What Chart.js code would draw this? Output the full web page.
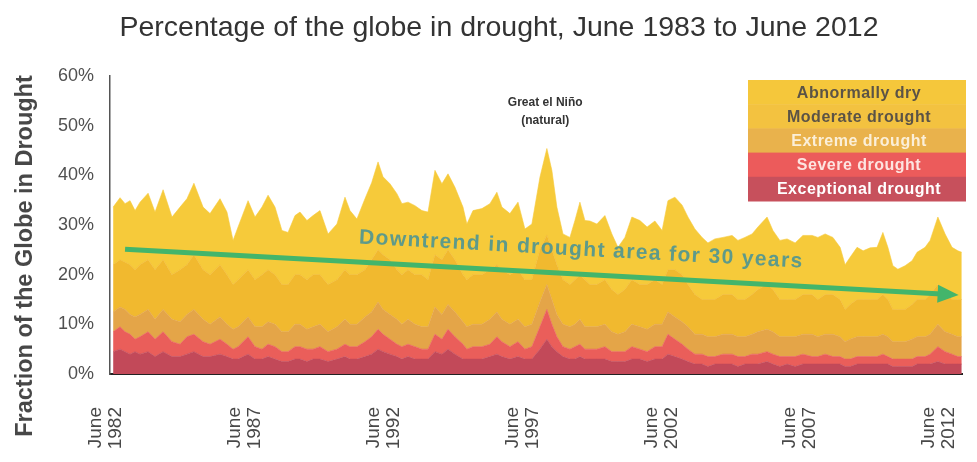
<!DOCTYPE html>
<html>
<head>
<meta charset="utf-8">
<script src="https://cdn.jsdelivr.net/npm/chart.js@4.4.0/dist/chart.umd.min.js"></script>
<style>
  html, body { margin: 0; padding: 0; background: #fff; }
  #chartContainer { width: 977px; height: 462px; }
</style>
</head>
<body>
<div id="chartContainer"><canvas id="droughtChart"></canvas></div>
<script>
// time of each sample (decimal year)
const years = [
  1982.54, 1982.79, 1982.97, 1983.15, 1983.33, 1983.51, 1983.80,
  1984.05, 1984.34, 1984.66, 1984.95, 1985.20, 1985.45, 1985.78,
  1986.03, 1986.39, 1986.64, 1986.86, 1987.04,
  1987.40, 1987.65, 1987.90, 1988.12, 1988.37, 1988.62, 1988.84,
  1989.09, 1989.27, 1989.52, 1989.74, 1989.99, 1990.28, 1990.60,
  1990.89, 1991.07, 1991.32, 1991.61, 1991.85,
  1992.08, 1992.26, 1992.51, 1992.76, 1992.94, 1993.16, 1993.41, 1993.66, 1993.88,
  1994.13, 1994.38, 1994.60, 1994.85,
  1995.14, 1995.28, 1995.50, 1995.82, 1996.11, 1996.36, 1996.54, 1996.83, 1997.12, 1997.37, 1997.62,
  1997.91, 1998.16, 1998.34, 1998.52, 1998.74, 1998.99,
  1999.17, 1999.35, 1999.53, 1999.71, 1999.96, 2000.25, 2000.50, 2000.72, 2000.97, 2001.22, 2001.51, 2001.77, 2002.05, 2002.31,
  2002.52, 2002.77, 2003.03, 2003.24,
  2003.49, 2003.75, 2003.96, 2004.21, 2004.50, 2004.83, 2005.04, 2005.29, 2005.55, 2005.76,
  2006.09, 2006.30, 2006.55, 2006.81, 2007.10, 2007.38, 2007.71, 2007.92, 2008.18, 2008.46,
  2008.72, 2008.90, 2009.08, 2009.33, 2009.55, 2009.80, 2010.05, 2010.26, 2010.44, 2010.62,
  2010.80, 2011.06, 2011.31, 2011.49, 2011.78, 2011.96, 2012.24, 2012.50, 2012.75, 2012.96, 2013.10
];

// top edge of each band, % of globe (cumulative)
const dryTop = [
  33.6, 35.5, 34.3, 34.9, 32.9, 34.6, 36.4,
  32.6, 37.1, 31.6, 33.6, 35.3, 38.4, 33.6,
  32.3, 35.3, 32.6, 26.9, 29.6,
  34.9, 31.6, 33.6, 36.0, 33.6, 28.9, 28.5,
  31.9, 32.6, 30.9, 31.9, 32.9, 28.2, 30.2,
  35.6, 32.9, 31.2, 35.3, 38.5,
  42.7, 39.7, 38.3, 36.3, 34.3, 34.6, 33.9, 32.9, 32.6,
  41.0, 38.3, 40.3, 37.6,
  33.6, 30.2, 32.9, 33.3, 34.3, 36.6, 33.6, 32.3, 34.6, 29.2, 30.2,
  39.6, 45.4, 41.0, 33.6, 28.2, 27.5,
  30.9, 34.6, 30.9, 30.8, 30.2, 31.9, 28.2, 25.5, 27.5, 31.6, 30.9, 29.6, 30.8, 28.9,
  34.9, 35.6, 34.0, 31.6,
  29.2, 27.5, 26.4, 27.2, 27.5, 27.9, 26.9, 27.5, 28.2, 29.6,
  31.6, 28.9, 26.9, 27.2, 26.4, 27.9, 27.9, 27.5, 28.2, 27.5,
  25.5, 22.0, 23.5, 25.5, 24.8, 25.4, 25.5, 28.5, 25.5, 21.8,
  21.1, 21.8, 22.8, 24.5, 25.5, 26.9, 31.6, 28.2, 25.5, 24.8, 24.5
];

const moderateTop = [
  22, 23, 22.5, 22, 21, 22, 23,
  21, 23, 20, 21, 22, 24, 21,
  20, 22, 20, 18, 19,
  21, 19, 20, 21, 20, 18, 18,
  20, 20, 19, 20, 20, 18, 19,
  21, 20, 20, 21, 23,
  25, 24, 23, 21, 20, 21, 20, 20, 19,
  24, 23, 25, 23,
  20, 19, 20, 20, 21, 22, 21, 20, 21, 19, 19,
  25, 28, 25, 22, 19, 18,
  19, 20, 19, 18, 18, 19, 17, 16, 17, 19, 18, 18, 19, 18,
  21, 21, 20, 18,
  16, 15, 15, 15, 16, 16, 15, 15, 16, 17,
  18, 17, 15, 15, 15, 16, 16, 15, 16, 16,
  15, 13, 14, 15, 15, 15, 15, 16, 15, 13,
  13, 13, 14, 15, 15, 16, 18, 17, 15, 15, 15
];

const extremeTop = [
  12.5, 13.5, 13, 12, 11.5, 12, 13,
  11, 13, 11, 10.5, 12, 13, 11,
  10, 11.5, 10, 9, 9.5,
  11.5, 9.5, 9.5, 10.5, 10, 8.5, 8.5,
  10, 10, 9, 9.5, 10, 8.5, 9.5,
  11, 10, 10, 11.5, 12.5,
  14.5, 13, 12, 11, 10, 11, 10, 9.5, 9.5,
  13.5, 12, 14, 12.5,
  10.5, 9.5, 10, 10, 11, 12.5, 11, 10, 11, 9.5, 10,
  14.5, 18, 15, 12, 10, 9.5,
  10, 11, 9.5, 9.5, 9.5, 10, 8.5, 8, 8.5, 10, 9.5, 9, 10, 10,
  12.5, 11.5, 10.5, 9.5,
  8, 8, 7.5, 7.5, 8, 8, 7.5, 7.5, 8, 8.5,
  9, 8.5, 7.5, 7.5, 7.5, 8, 8, 7.5, 8, 8,
  7.5, 6.5, 7, 7.5, 7.5, 7.5, 7.5, 8, 7.5, 6.5,
  6.5, 6.5, 7, 7.5, 7.5, 8, 10, 8.5, 8, 7.5, 7.5
];

const severeTop = [
  8.5, 9.5, 8.5, 8, 7, 7.5, 8.5,
  7, 8.5, 6.5, 6, 7.5, 8, 6.5,
  6, 7, 6, 5, 5.5,
  7.5, 5.5, 5, 6, 5.5, 4.5, 4.5,
  5.5, 5.5, 5, 5, 5.5, 4.5, 5,
  6, 5.5, 5.5, 6.5, 7.5,
  9, 8, 7, 6, 5.5, 6, 5.5, 5, 5,
  8, 7, 9, 7.5,
  6, 5, 5.5, 5.5, 6, 7.5, 6.5, 5.5, 6.5, 5, 5.5,
  9.5, 13, 10, 7.5, 5.5, 5,
  5.5, 6, 5, 5, 5, 5.5, 4.5, 4.5, 4.5, 5.5, 5, 4.5, 5.5, 5.5,
  8, 7, 6, 5,
  4, 4, 3.5, 3.5, 4, 4, 3.5, 3.5, 4, 4,
  4.5, 4, 3.5, 3.5, 3.5, 4, 3.5, 3.5, 4, 3.5,
  3.5, 3, 3, 3.5, 3.5, 3.5, 3.5, 4, 3.5, 3,
  3, 3, 3, 3.5, 3.5, 4, 5.5, 4.5, 4, 3.5, 3.5
];

const exceptionalTop = [
  4.5, 5, 4.5, 4, 4.5, 4, 4.5,
  3.5, 4.5, 3.5, 3.5, 4, 4.5, 3.5,
  3.5, 4, 3.5, 3, 3,
  4, 3, 3, 3.5, 3, 2.5, 2.5,
  3, 3, 2.5, 3, 3, 2.5, 3,
  3.5, 3, 3, 3.5, 4,
  5, 4.5, 4, 3.5, 3, 3.5, 3, 3, 3,
  4.5, 4, 5, 4,
  3, 3, 3, 3, 3.5, 4, 3.5, 3, 3.5, 3, 3,
  5, 7, 5.5, 4.5, 3.5, 3,
  3, 3.5, 3, 3, 3, 3, 2.5, 2.5, 2.5, 3, 3, 2.5, 3, 3,
  4, 3.5, 3, 2.5,
  2, 2, 1.5, 2, 2, 2, 1.5, 2, 2, 2,
  2.5, 2, 1.5, 2, 1.5, 2, 2, 2, 2, 2,
  2, 1.5, 1.5, 2, 2, 2, 2, 2, 2, 1.5,
  1.5, 1.5, 1.5, 2, 2, 2, 2.5, 2, 2, 2, 2
];

const layerNames = ['Abnormally dry', 'Moderate drought', 'Extreme drought', 'Severe drought', 'Exceptional drought'];

const tickYears = [1982.5, 1987.5, 1992.5, 1997.5, 2002.5, 2007.5, 2012.5];
const tickLabels = [
  ['June', '1982'], ['June', '1987'], ['June', '1992'], ['June', '1997'],
  ['June', '2002'], ['June', '2007'], ['June', '2012']
];

const trendYears = [1982.97, 2012.7];
const trendValues = [25.1, 16.0];

const layerColors = ['#f6ca3a', '#f1b92f', '#e4a548', '#ea5e5a', '#c24959'];
const legendBandColors = ['#f5c73b', '#f3c240', '#e9b24c', '#ec5b5b', '#c7505c'];
const legendTextColors = ['#5b5346', '#5b5346', '#fbefd8', '#fde4e0', '#ffffff'];

const FONT = "'Liberation Sans', Arial, sans-serif";

function toPoints(values) {
  return years.map((x, i) => ({ x: x, y: values[i] }));
}

let notesPlugin = {
  id: 'droughtNotes',
  afterDatasetsDraw(chart) {
    let ctx = chart.ctx;
    let xs = chart.scales.x;
    let ys = chart.scales.y;

    // arrow head on the trend line
    let pts = chart.getDatasetMeta(5).data;
    let p0 = pts[0], p1 = pts[pts.length - 1];
    let ang = Math.atan2(p1.y - p0.y, p1.x - p0.x);
    ctx.save();
    ctx.translate(p1.x, p1.y);
    ctx.rotate(ang);
    ctx.fillStyle = '#43b56b';
    ctx.beginPath();
    ctx.moveTo(8, 0);
    ctx.lineTo(-13, -9);
    ctx.lineTo(-13, 9);
    ctx.closePath();
    ctx.fill();
    ctx.restore();

    // trend caption
    ctx.save();
    ctx.translate(xs.getPixelForValue(1999.4), ys.getPixelForValue(25.0));
    ctx.rotate(ang);
    ctx.font = `bold 21px ${FONT}`;
    ctx.letterSpacing = '1.4px';
    ctx.fillStyle = 'rgba(80,150,145,0.92)';
    ctx.textAlign = 'center';
    ctx.textBaseline = 'middle';
    ctx.fillText('Downtrend in drought area for 30 years', 0, 0);
    ctx.restore();

    // el Nino note
    ctx.save();
    ctx.font = `bold 12px 'Liberation Sans Narrow', ${FONT}`;
    ctx.fillStyle = '#333';
    ctx.textAlign = 'center';
    ctx.textBaseline = 'middle';
    let nx = xs.getPixelForValue(1998.1);
    ctx.fillText('Great el Niño', nx, ys.getPixelForValue(54.6));
    ctx.fillText('(natural)', nx, ys.getPixelForValue(51.0));
    ctx.restore();
  },
  afterDraw(chart) {
    let ctx = chart.ctx;

    // legend box
    let left = 748, top = 80, w = 218, h = 24.2;
    ctx.save();
    ctx.font = `bold 16px ${FONT}`;
    ctx.letterSpacing = '0.5px';
    ctx.textAlign = 'center';
    ctx.textBaseline = 'middle';
    layerNames.forEach((name, i) => {
      ctx.fillStyle = legendBandColors[i];
      ctx.fillRect(left, top + i * h, w, h + 0.5);
      ctx.fillStyle = legendTextColors[i];
      ctx.fillText(name, left + w / 2 + 2, top + i * h + h / 2 + 1);
    });
    ctx.restore();

    // y axis title
    ctx.save();
    ctx.translate(26, 256);
    ctx.rotate(-Math.PI / 2);
    ctx.font = `bold 23.5px ${FONT}`;
    ctx.fillStyle = '#474747';
    ctx.textAlign = 'center';
    ctx.textBaseline = 'middle';
    ctx.fillText('Fraction of the Globe in Drought', 0, 0);
    ctx.restore();
  }
};

function areaDataset(label, values, color, fill) {
  return {
    label: label,
    data: toPoints(values),
    backgroundColor: color,
    borderColor: color,
    borderWidth: 0.6,
    pointRadius: 0,
    tension: 0,
    fill: fill
  };
}

new Chart(document.getElementById('droughtChart'), {
  type: 'line',
  data: {
    datasets: [
      areaDataset(layerNames[4], exceptionalTop, layerColors[4], 'origin'),
      areaDataset(layerNames[3], severeTop, layerColors[3], '-1'),
      areaDataset(layerNames[2], extremeTop, layerColors[2], '-1'),
      areaDataset(layerNames[1], moderateTop, layerColors[1], '-1'),
      areaDataset(layerNames[0], dryTop, layerColors[0], '-1'),
      {
        label: 'Trend',
        data: trendYears.map((x, i) => ({ x: x, y: trendValues[i] })),
        borderColor: '#43b56b',
        borderWidth: 5,
        pointRadius: 0,
        fill: false,
        order: -1
      }
    ]
  },
  options: {
    responsive: true,
    maintainAspectRatio: false,
    animation: false,
    layout: { padding: { top: 0, left: 36, right: 15, bottom: 0 } },
    plugins: {
      legend: { display: false },
      tooltip: { enabled: false },
      title: {
        display: true,
        text: 'Percentage of the globe in drought, June 1983 to June 2012',
        color: '#333',
        font: { family: FONT, size: 28.5, weight: 'normal' },
        padding: { top: 11, bottom: 30.8 }
      }
    },
    scales: {
      x: {
        type: 'linear',
        min: 1982.428,
        max: 2013.109,
        grid: { display: false, drawTicks: false },
        border: { display: true, color: '#222', width: 2 },
        afterBuildTicks: (scale) => { scale.ticks = tickYears.map(v => ({ value: v })); },
        afterFit: (scale) => {
          scale.height = 88;
          scale.paddingLeft = 0;
          scale.paddingRight = 0;
        },
        ticks: {
          autoSkip: false,
          minRotation: 90,
          maxRotation: 90,
          padding: 33,
          labelOffset: -16,
          color: '#484848',
          font: { family: FONT, size: 19, lineHeight: 1.05 },
          callback: (v, i) => tickLabels[i]
        }
      },
      y: {
        min: 0,
        max: 60,
        grid: { display: false, drawTicks: false },
        border: { display: true, color: '#555', width: 1.5 },
        afterFit: (scale) => { scale.width = 74; },
        ticks: {
          stepSize: 10,
          padding: 16,
          color: '#505050',
          font: { family: FONT, size: 18 },
          callback: (v) => v + '%'
        }
      }
    }
  },
  plugins: [notesPlugin]
});
</script>
</body>
</html>
